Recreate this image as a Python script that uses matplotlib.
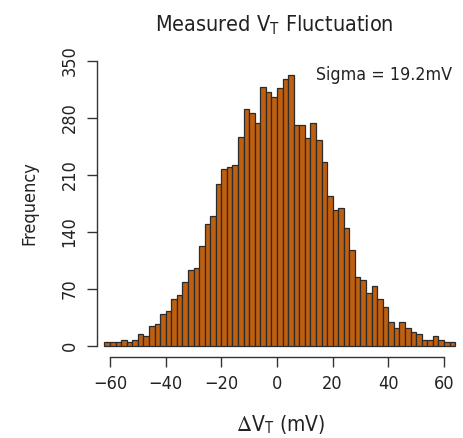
import matplotlib
matplotlib.use("Agg")
import matplotlib.pyplot as plt
import numpy as np

# histogram of measured VT shift, 2 mV bins from -62 to 64 mV
bin_start = -62
bin_width = 2
counts = [5, 5, 5, 7, 5, 7, 15, 12, 24, 27,
          39, 43, 58, 63, 78, 93, 96, 123, 150, 160,
          199, 217, 219, 222, 256, 291, 286, 274, 318, 311,
          306, 316, 328, 333, 271, 271, 255, 274, 253, 226,
          184, 167, 169, 145, 118, 85, 81, 65, 73, 58,
          48, 29, 22, 29, 22, 17, 15, 7, 7, 12,
          7, 5, 5]
x_ticks = [-60, -40, -20, 0, 20, 40, 60]
y_ticks = [0, 70, 140, 210, 280, 350]

plt.rcParams['font.family'] = ['DejaVu Sans']
plt.rcParams['font.stretch'] = 'condensed'
plt.rcParams['mathtext.fontset'] = 'stix'

W, H = 464, 438
fig = plt.figure(figsize=(W / 100, H / 100), dpi=100)
# axes box in pixels (left, top, right, bottom)
l, t, r, b = 96.7, 49.3, 464, 357.4
ax = fig.add_axes([l / W, 1 - b / H, (r - l) / W, (b - t) / H])

edges = bin_start + bin_width * np.arange(len(counts))
ax.bar(edges, counts, width=bin_width, align='edge',
       color='#bf5f10', edgecolor='#2b2b2b', linewidth=0.9)

ax.set_xlim(-64.8, 67.2)
ax.set_ylim(-14, 364)

for s in ['top', 'right']:
    ax.spines[s].set_visible(False)
ax.spines['left'].set_bounds(0, 350)
ax.spines['bottom'].set_bounds(-60, 60)
for s in ['left', 'bottom']:
    ax.spines[s].set_color('#333333')
    ax.spines[s].set_linewidth(1.0)

ax.set_xticks(x_ticks)
ax.set_yticks(y_ticks)
ax.tick_params(axis='both', length=7, width=1.0, color='#333333',
               labelsize=13, labelcolor='#222222', pad=6)
plt.setp(ax.get_yticklabels(), rotation=90, va='center')

ax.set_ylabel('Frequency', fontsize=13, color='#222222', labelpad=16)
ax.set_xlabel(r'$\Delta$V$_\mathregular{T}$ (mV)', fontsize=15,
              color='#222222', labelpad=14)
fig.text(274 / W, 1 - 24 / H, r'Measured V$_\mathregular{T}$ Fluctuation',
         ha='center', va='center', fontsize=15.5, color='#222222')
ax.text(316 / W, 1 - 75 / H, 'Sigma = 19.2mV', transform=fig.transFigure,
        ha='left', va='center', fontsize=12.8, color='#222222')

fig.savefig('out.png', dpi=100)
